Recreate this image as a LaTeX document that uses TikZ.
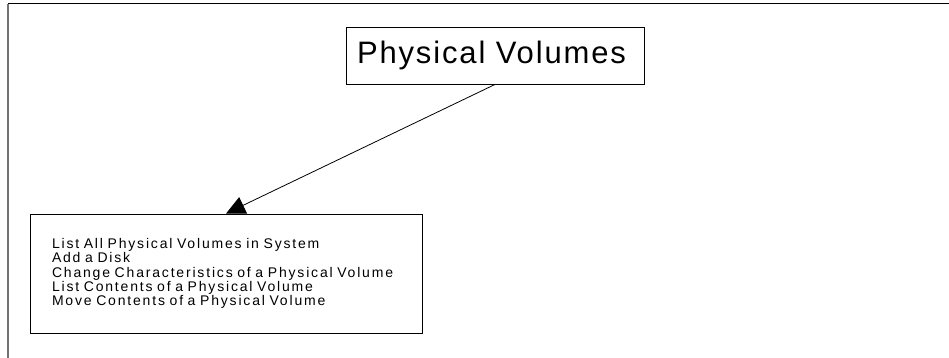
\documentclass[tikz,border=0pt]{standalone}
\usepackage{fontspec}
\setmainfont{Liberation Sans}
\newfontfamily\titlefont[LetterSpace=6]{Liberation Sans}
\newfontfamily\itemfont[LetterSpace=13]{Liberation Sans}
\usetikzlibrary{arrows.meta}

\begin{document}
\begin{tikzpicture}[x=1pt, y=-1pt, >={Triangle[length=19pt, width=18pt]},
		menubox/.style={draw, line width=0.9pt, fill=white}]
			
			\useasboundingbox (0,0) rectangle (949,358);
			
			% Frame
			\coordinate (FTL) at (8,4);
			\coordinate (FTR) at (949,4);
			\coordinate (FBL) at (8,358);
			\draw[line width=1pt] (FTL) -- (FTR);
			\draw[line width=1.8pt, black!55] (FTL) -- (FBL);
			
			% Title box
			\node[menubox, minimum width=298pt, minimum height=57pt, inner sep=0pt,
				font=\titlefont\fontsize{31}{36}\selectfont] (pv) at (495,55.5) {Physical Volumes\hspace*{7pt}};
			
			% Task list
			\node[menubox, minimum height=119pt, inner xsep=22pt, inner ysep=0pt, text width=348pt,
				align=left, font=\itemfont\fontsize{14}{14.4}\selectfont] (tasks) at (226,273.5)
				{\spaceskip=4.6pt\relax List All Physical Volumes in System\\
				 Add a Disk\\
				 Change Characteristics of a Physical Volume\\
				 List Contents of a Physical Volume\\
				 Move Contents of a Physical Volume};
			
			% Arrow
			\draw[->, line width=0.8pt] (pv.south) -- (tasks.north);
			
		\end{tikzpicture}
\end{document}
